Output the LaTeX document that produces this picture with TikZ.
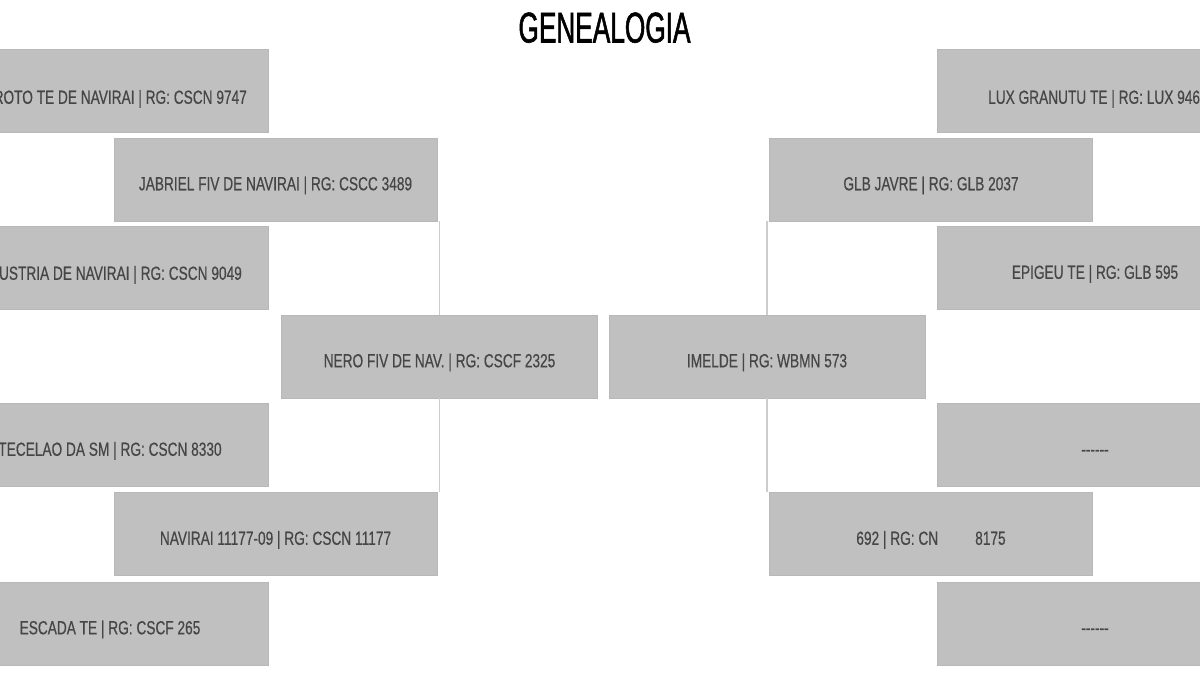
\documentclass[tikz,border=0pt]{standalone}
\usepackage{fontspec}
\newfontfamily\lblfont[FakeStretch=0.72,FakeBold=0.5]{Liberation Sans}
\newfontfamily\ttlfont[FakeStretch=0.61,FakeBold=1.2]{Liberation Sans}
\definecolor{boxgray}{RGB}{192,192,192}
\definecolor{boxedge}{RGB}{184,184,184}
\definecolor{txtgray}{RGB}{70,70,70}
\definecolor{linegray}{RGB}{205,205,205}
\begin{document}
\begin{tikzpicture}[x=1pt,y=-1pt,
  box/.style={rectangle, fill=boxgray, draw=boxedge, line width=0.8pt,
    minimum height=83pt, inner sep=0pt, text=txtgray,
    font=\lblfont\fontsize{19}{19}\selectfont, text height=21.6pt, text depth=0pt},
  outerbox/.style={box, minimum width=316pt},
  midbox/.style={box, minimum width=323pt},
  cenbox/.style={box, minimum width=316pt},
  lbl/.style={inner sep=0pt, text=txtgray,
    font=\lblfont\fontsize{19}{19}\selectfont, text height=13.6pt, text depth=0pt},
  link/.style={draw=linegray, line width=1.5pt},
  ttl/.style={inner sep=0pt, text=black,
    font=\ttlfont\fontsize{43}{43}\selectfont, text height=31pt, text depth=0pt}]
\useasboundingbox (0,0) rectangle (1200,700);
\fill[white] (0,0) rectangle (1200,700);
\clip (0,0) rectangle (1200,700);

\node[ttl] (title) at (604.5,27) {GENEALOGIA};

% left side
\node[outerbox] (l1) at (110,90.5) {};
\node[lbl, anchor=east] (l1t) at (247,97) {ROTO TE DE NAVIRAI | RG: CSCN 9747};
\node[midbox] (jab) at (275.5,179.5) {JABRIEL FIV DE NAVIRAI | RG: CSCC 3489};
\node[outerbox] (l3) at (110,268) {};
\node[lbl, anchor=east] (l3t) at (242,273) {USTRIA DE NAVIRAI | RG: CSCN 9049};
\node[cenbox] (nero) at (439.5,356.5) {NERO FIV DE NAV. | RG: CSCF 2325};
\node[outerbox] (l5) at (110,445) {TECELAO DA SM | RG: CSCN 8330};
\node[midbox] (nav) at (275.5,534) {NAVIRAI 11177-09 | RG: CSCN 11177};
\node[outerbox] (l7) at (110,623.5) {ESCADA TE | RG: CSCF 265};

% right side
\node[outerbox] (r1) at (1095,90.5) {};
\node[lbl, anchor=west] (r1t) at (988,97) {LUX GRANUTU TE | RG: LUX 946};
\node[midbox] (glb) at (931,179.5) {GLB JAVRE | RG: GLB 2037};
\node[outerbox] (r3) at (1095,268) {EPIGEU TE | RG: GLB 595};
\node[cenbox] (imelde) at (767,356.5) {IMELDE | RG: WBMN 573};
\node[outerbox] (r5) at (1095,445) {-{}-{}-{}-{}-{}-};
\node[midbox] (r6) at (931,534) {692 | RG: CN\hspace{37pt}8175};
\node[outerbox] (r7) at (1095,623.5) {-{}-{}-{}-{}-{}-};

% connectors
\draw[link] (nero.north) -- (nero.north |- jab.south);
\draw[link] (nero.south) -- (nero.south |- nav.north);
\draw[link] (imelde.north) -- (imelde.north |- glb.south);
\draw[link] (imelde.south) -- (imelde.south |- r6.north);
\end{tikzpicture}
\end{document}
